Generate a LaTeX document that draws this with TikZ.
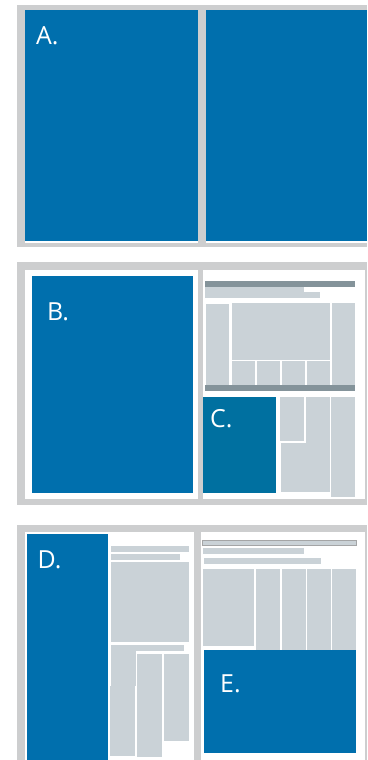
\documentclass[tikz,border=0pt]{standalone}
\usepackage{fontspec}
\setmainfont{Open Sans}
\usetikzlibrary{positioning}

\definecolor{framegray}{RGB}{205,206,207}
\definecolor{blockgray}{RGB}{202,210,215}
\definecolor{bargray}{RGB}{132,147,154}
\definecolor{heroblue}{RGB}{0,111,173}
\definecolor{deepblue}{RGB}{0,112,160}

\begin{document}
\begin{tikzpicture}[
        x=1bp, y=-1bp,
        frame/.style={fill=framegray},
        page/.style={fill=white},
        block/.style={fill=blockgray},
        bar/.style={fill=bargray},
        hero/.style={fill=heroblue},
        tag/.style={text=white, font=\fontsize{25}{30}\selectfont, anchor=base west, inner sep=0pt}
    ]
        \useasboundingbox[fill=white] (0,0) rectangle (367,760);

        % --- PANEL A: two full spreads ---
        \fill[frame] (17.3,5.3) rectangle (367,246.7);
        \fill[page] (25,240.7) rectangle (198,242.7);
        \fill[page] (206,240.7) rectangle (367,242.7);
        \fill[hero] (25,10) rectangle (198,240.7);
        \fill[hero] (206,10) rectangle (367,240.7);
        \node[tag] (labelA) at (36,45) {A.};

        % --- PANEL B/C: full page + corner block ---
        \fill[frame] (17.3,261.7) rectangle (367,505);
        \fill[page] (25,270) rectangle (198,499);
        \fill[page] (203.3,270) rectangle (365,499);
        \fill[hero] (32,276) rectangle (193,492.7);
        \node[tag] (labelB) at (47,320) {B.};

        \fill[bar] (205,281) rectangle (355,286.7);
        \fill[block] (205,286.7) rectangle (303.7,292.3);
        \fill[block] (205,292.3) rectangle (320,297.7);
        \fill[block] (206,303.7) rectangle (229,384.7);
        \fill[block] (231.7,303) rectangle (330,359.7);
        \foreach \xa/\xb in {231.7/255, 257/280, 282/305, 307/330}
            \fill[block] (\xa,360.7) rectangle (\xb,384.7);
        \fill[block] (332,303) rectangle (355,384.7);
        \fill[bar] (205,385) rectangle (355,390.7);

        \fill[deepblue] (203,397) rectangle (276,492.7);
        \node[tag] (labelC) at (210,427.3) {C.};
        \fill[block] (280,397) rectangle (304,441);
        \fill[block] (306,397) rectangle (330,443);
        \fill[block] (281,443) rectangle (330,491.7);
        \fill[block] (331,397) rectangle (355,496.7);

        % --- PANEL D/E: side column + bottom block ---
        \fill[frame] (17.3,525) rectangle (367,760);
        \fill[page] (25,532) rectangle (194.3,760);
        \fill[page] (201,532) rectangle (365,760);
        \fill[hero] (27,534) rectangle (108,760);
        \node[tag] (labelD) at (37.5,568.3) {D.};

        \fill[block] (111,546) rectangle (189,552);
        \fill[block] (111,554) rectangle (180,560);
        \fill[block] (111,562) rectangle (189,641.7);
        \fill[block] (111,645) rectangle (184,651);
        \fill[block] (111,651) rectangle (136,686);
        \fill[block] (110,686) rectangle (135,756);
        \fill[block] (137,654) rectangle (162,757);
        \fill[block] (164,654) rectangle (189,741);

        \fill[block, draw=framegray!80!black, line width=0.6bp] (202.7,540) rectangle (356,545.7);
        \fill[block] (203,548) rectangle (304,553.7);
        \fill[block] (204,558) rectangle (321,563.7);
        \fill[block] (202.7,569) rectangle (254,645.7);
        \foreach \xa/\xb in {256/280, 282/306, 307/331, 332/356}
            \fill[block] (\xa,569) rectangle (\xb,650.7);
        \fill[hero] (204,650) rectangle (356,752.7);
        \node[tag] (labelE) at (220,692.7) {E.};

    \end{tikzpicture}
\end{document}
